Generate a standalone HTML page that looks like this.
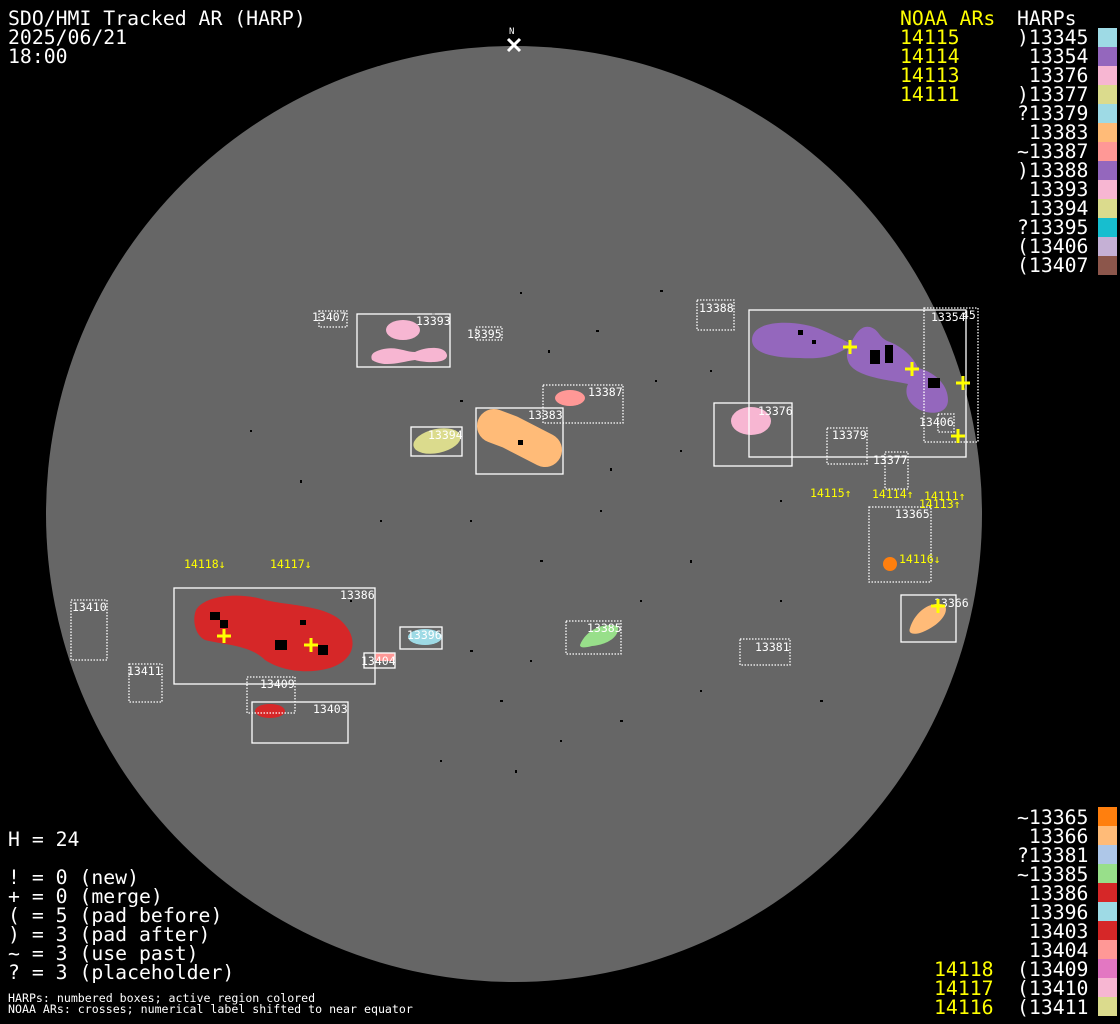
<!DOCTYPE html>
<html><head><meta charset="utf-8"><style>
html,body{margin:0;padding:0;background:#000;}
svg{display:block}
text{font-family:"DejaVu Sans Mono","Liberation Mono",monospace;white-space:pre}
.b{font-size:19.8px;fill:#fff}
.y{font-size:19.8px;fill:#ff0}
.l{font-size:11.5px;fill:#fff}
.s{font-size:11.6px;fill:#fff}
.yl{font-size:11.5px;fill:#ff0}
.bx{fill:none;stroke:#fff;stroke-width:1.3}
.dt{fill:none;stroke:#fff;stroke-width:1.3;stroke-dasharray:1.5 1.5}
.cr{stroke:#ff0;stroke-width:3}
</style></head><body>
<svg width="1120" height="1024" viewBox="0 0 1120 1024" xmlns="http://www.w3.org/2000/svg">
<rect width="1120" height="1024" fill="#000"/>
<circle cx="514" cy="514" r="468" fill="#666"/>

<g fill="#000">
<rect x="432" y="313" width="3" height="2"/><rect x="548" y="350" width="2" height="3"/><rect x="520" y="292" width="2" height="2"/>
<rect x="596" y="330" width="3" height="2"/><rect x="655" y="380" width="2" height="2"/><rect x="610" y="468" width="2" height="3"/>
<rect x="470" y="520" width="2" height="2"/><rect x="540" y="560" width="3" height="2"/><rect x="640" y="600" width="2" height="2"/>
<rect x="690" y="560" width="2" height="3"/><rect x="500" y="700" width="3" height="2"/><rect x="560" y="740" width="2" height="2"/>
<rect x="440" y="760" width="2" height="2"/><rect x="620" y="720" width="3" height="2"/><rect x="700" y="690" width="2" height="2"/>
<rect x="780" y="600" width="2" height="2"/><rect x="820" y="700" width="3" height="2"/><rect x="380" y="520" width="2" height="2"/>
<rect x="300" y="480" width="2" height="3"/><rect x="250" y="430" width="2" height="2"/><rect x="660" y="290" width="3" height="2"/>
<rect x="710" y="370" width="2" height="2"/><rect x="780" y="500" width="2" height="2"/><rect x="350" y="600" width="2" height="2"/>
<rect x="470" y="650" width="3" height="2"/><rect x="530" y="660" width="2" height="2"/><rect x="515" y="770" width="2" height="3"/>
<rect x="600" y="510" width="2" height="2"/><rect x="680" y="450" width="2" height="2"/><rect x="460" y="400" width="3" height="2"/>
</g>

<path d="M752,340 C752,318 800,320 822,330 C835,336 845,340 852,345 C840,352 830,360 800,358 C770,358 752,352 752,340Z" fill="#9467bd"/>
<path d="M850,345 C855,335 860,325 870,327 C880,330 878,338 890,342 C905,348 915,360 918,368 C935,372 948,385 948,400 C948,412 935,416 920,410 C905,402 905,390 908,384 C890,380 860,378 850,365 C845,357 847,350 850,345Z" fill="#9467bd"/>
<ellipse cx="751" cy="421" rx="20" ry="14" fill="#f7b6d2"/>
<ellipse cx="403" cy="330" rx="17" ry="10" fill="#f7b6d2"/>
<path d="M380,350 C395,345 405,352 415,352 C425,347 445,345 447,355 C448,364 425,363 415,360 C400,362 385,368 372,360 C370,355 373,352 380,350Z" fill="#f7b6d2"/>
<ellipse cx="437" cy="441" rx="24" ry="12" transform="rotate(-12 437 441)" fill="#dbdb8d"/>
<polyline points="494,426 510,432 545,450" fill="none" stroke="#ffbb78" stroke-width="34" stroke-linecap="round" stroke-linejoin="round"/>
<ellipse cx="570" cy="398" rx="15" ry="8" fill="#ff9896"/>
<path d="M196,610 C205,595 240,592 265,600 C290,606 330,605 345,625 C358,640 355,660 330,668 C305,675 280,670 265,660 C250,645 225,645 205,640 C195,635 192,620 196,610Z" fill="#d62728"/>
<ellipse cx="270" cy="711" rx="15" ry="7" fill="#d62728"/>
<ellipse cx="425" cy="637" rx="17" ry="8" fill="#9edae5"/>
<rect x="375" y="653" width="20" height="8" rx="3" fill="#ff9896"/>
<path d="M580,645 C585,632 600,622 618,626 C620,638 605,645 592,646 C585,648 580,648 580,645Z" fill="#98df8a"/>
<circle cx="890" cy="564" r="7" fill="#ff7f0e"/>
<path d="M910,628 C915,612 930,600 945,605 C950,615 935,628 920,633 C912,635 908,633 910,628Z" fill="#ffbb78"/>

<g fill="#000">
<rect x="870" y="350" width="10" height="14"/><rect x="885" y="345" width="8" height="18"/><rect x="928" y="378" width="12" height="10"/>
<rect x="210" y="612" width="10" height="8"/><rect x="220" y="620" width="8" height="8"/><rect x="275" y="640" width="12" height="10"/><rect x="318" y="645" width="10" height="10"/><rect x="300" y="620" width="6" height="5"/>
<rect x="798" y="330" width="5" height="5"/><rect x="812" y="340" width="4" height="4"/><rect x="518" y="440" width="5" height="5"/>
</g>

<rect class="dt" x="319" y="311" width="28" height="16"/>
<rect class="bx" x="357" y="314" width="93" height="53"/>
<rect class="dt" x="476" y="327" width="26" height="13"/>
<rect class="dt" x="697" y="300" width="37" height="30"/>
<rect class="bx" x="749" y="310" width="217" height="147"/>
<rect class="dt" x="924" y="308" width="54" height="134"/>
<rect class="bx" x="714" y="403" width="78" height="63"/>
<rect class="dt" x="827" y="428" width="40" height="36"/>
<rect class="dt" x="885" y="452" width="23" height="37"/>
<rect class="dt" x="938" y="414" width="16" height="18"/>
<rect class="dt" x="543" y="385" width="80" height="38"/>
<rect class="bx" x="476" y="408" width="87" height="66"/>
<rect class="bx" x="411" y="427" width="51" height="29"/>
<rect class="dt" x="869" y="507" width="62" height="75"/>
<rect class="bx" x="901" y="595" width="55" height="47"/>
<rect class="dt" x="740" y="639" width="50" height="26"/>
<rect class="dt" x="566" y="621" width="55" height="33"/>
<rect class="bx" x="400" y="627" width="42" height="22"/>
<rect class="bx" x="364" y="653" width="31" height="15"/>
<rect class="bx" x="174" y="588" width="201" height="96"/>
<rect class="dt" x="247" y="677" width="48" height="36"/>
<rect class="bx" x="252" y="702" width="96" height="41"/>
<rect class="dt" x="71" y="600" width="36" height="60"/>
<rect class="dt" x="129" y="664" width="33" height="38"/>

<text class="l" x="312" y="321">13407</text>
<text class="l" x="416" y="325">13393</text>
<text class="l" x="467" y="338">13395</text>
<text class="l" x="699" y="312">13388</text>
<text class="l" x="931" y="321">13354</text>
<text class="l" x="962" y="319">45</text>
<text class="l" x="758" y="415">13376</text>
<text class="l" x="832" y="439">13379</text>
<text class="l" x="873" y="464">13377</text>
<text class="l" x="919" y="426">13406</text>
<text class="l" x="588" y="396">13387</text>
<text class="l" x="528" y="419">13383</text>
<text class="l" x="428" y="439">13394</text>
<text class="l" x="895" y="518">13365</text>
<text class="l" x="934" y="607">13366</text>
<text class="l" x="755" y="651">13381</text>
<text class="l" x="587" y="632">13385</text>
<text class="l" x="407" y="639">13396</text>
<text class="l" x="361" y="665">13404</text>
<text class="l" x="340" y="599">13386</text>
<text class="l" x="260" y="688">13409</text>
<text class="l" x="313" y="713">13403</text>
<text class="l" x="72" y="611">13410</text>
<text class="l" x="127" y="675">13411</text>

<g class="cr">
<path d="M843,347h14M850,340v14"/><path d="M905,369h14M912,362v14"/><path d="M956,383h14M963,376v14"/>
<path d="M951,436h14M958,429v14"/><path d="M217,636h14M224,629v14"/><path d="M304,645h14M311,638v14"/>
<path d="M931,606h14M938,599v14"/>
</g>

<text class="yl" x="810" y="497">14115↑</text>
<text class="yl" x="872" y="498">14114↑</text>
<text class="yl" x="924" y="500">14111↑</text>
<text class="yl" x="919" y="508">14113↑</text>
<text class="yl" x="899" y="563">14116↓</text>
<text class="yl" x="184" y="568">14118↓</text>
<text class="yl" x="270" y="568">14117↓</text>

<text class="s" x="509" y="34" style="font-size:9px">N</text>
<path d="M508,39l12,12M520,39l-12,12" stroke="#fff" stroke-width="3"/>

<text class="b" x="8" y="25">SDO/HMI Tracked AR (HARP)</text>
<text class="b" x="8" y="44">2025/06/21</text>
<text class="b" x="8" y="63">18:00</text>

<text class="y" x="900" y="25">NOAA ARs</text>
<text class="y" x="900" y="44">14115</text>
<text class="y" x="900" y="63">14114</text>
<text class="y" x="900" y="82">14113</text>
<text class="y" x="900" y="101">14111</text>
<text class="b" x="1017" y="25">HARPs</text>
<text class="b" x="1017" y="44">)13345</text>
<text class="b" x="1017" y="63"> 13354</text>
<text class="b" x="1017" y="82"> 13376</text>
<text class="b" x="1017" y="101">)13377</text>
<text class="b" x="1017" y="120">?13379</text>
<text class="b" x="1017" y="139"> 13383</text>
<text class="b" x="1017" y="158">~13387</text>
<text class="b" x="1017" y="177">)13388</text>
<text class="b" x="1017" y="196"> 13393</text>
<text class="b" x="1017" y="215"> 13394</text>
<text class="b" x="1017" y="234">?13395</text>
<text class="b" x="1017" y="253">(13406</text>
<text class="b" x="1017" y="272">(13407</text>
<rect x="1098" y="28" width="19" height="19" fill="#9edae5"/>
<rect x="1098" y="47" width="19" height="19" fill="#9467bd"/>
<rect x="1098" y="66" width="19" height="19" fill="#f7b6d2"/>
<rect x="1098" y="85" width="19" height="19" fill="#dbdb8d"/>
<rect x="1098" y="104" width="19" height="19" fill="#9edae5"/>
<rect x="1098" y="123" width="19" height="19" fill="#ffbb78"/>
<rect x="1098" y="142" width="19" height="19" fill="#ff9896"/>
<rect x="1098" y="161" width="19" height="19" fill="#9467bd"/>
<rect x="1098" y="180" width="19" height="19" fill="#f7b6d2"/>
<rect x="1098" y="199" width="19" height="19" fill="#dbdb8d"/>
<rect x="1098" y="218" width="19" height="19" fill="#17becf"/>
<rect x="1098" y="237" width="19" height="19" fill="#c5b0d5"/>
<rect x="1098" y="256" width="19" height="19" fill="#8c564b"/>

<text class="b" x="1017" y="824">~13365</text>
<text class="b" x="1017" y="843"> 13366</text>
<text class="b" x="1017" y="862">?13381</text>
<text class="b" x="1017" y="881">~13385</text>
<text class="b" x="1017" y="900"> 13386</text>
<text class="b" x="1017" y="919"> 13396</text>
<text class="b" x="1017" y="938"> 13403</text>
<text class="b" x="1017" y="957"> 13404</text>
<text class="b" x="1017" y="976">(13409</text>
<text class="b" x="1017" y="995">(13410</text>
<text class="b" x="1017" y="1014">(13411</text>
<text class="y" x="934" y="976">14118</text>
<text class="y" x="934" y="995">14117</text>
<text class="y" x="934" y="1014">14116</text>
<rect x="1098" y="807" width="19" height="19" fill="#ff7f0e"/>
<rect x="1098" y="826" width="19" height="19" fill="#ffbb78"/>
<rect x="1098" y="845" width="19" height="19" fill="#aec7e8"/>
<rect x="1098" y="864" width="19" height="19" fill="#98df8a"/>
<rect x="1098" y="883" width="19" height="19" fill="#d62728"/>
<rect x="1098" y="902" width="19" height="19" fill="#9edae5"/>
<rect x="1098" y="921" width="19" height="19" fill="#d62728"/>
<rect x="1098" y="940" width="19" height="19" fill="#ff9896"/>
<rect x="1098" y="959" width="19" height="19" fill="#e377c2"/>
<rect x="1098" y="978" width="19" height="19" fill="#f7b6d2"/>
<rect x="1098" y="997" width="19" height="19" fill="#dbdb8d"/>

<text class="b" x="8" y="846">H = 24</text>
<text class="b" x="8" y="884">! = 0 (new)</text>
<text class="b" x="8" y="903">+ = 0 (merge)</text>
<text class="b" x="8" y="922">( = 5 (pad before)</text>
<text class="b" x="8" y="941">) = 3 (pad after)</text>
<text class="b" x="8" y="960">~ = 3 (use past)</text>
<text class="b" x="8" y="979">? = 3 (placeholder)</text>
<text class="s" x="8" y="1002">HARPs: numbered boxes; active region colored</text>
<text class="s" x="8" y="1013">NOAA ARs: crosses; numerical label shifted to near equator</text>
</svg>
</body></html>
